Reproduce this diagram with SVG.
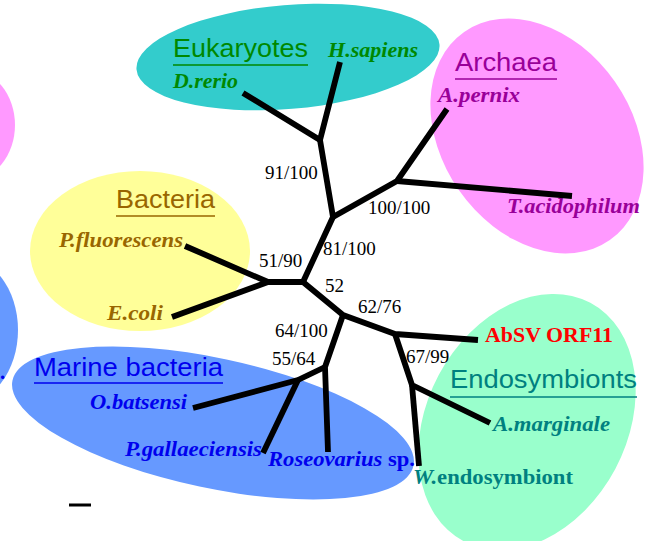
<svg xmlns="http://www.w3.org/2000/svg" width="649" height="541" viewBox="0 0 649 541">
<style>
.grp{font-family:"Liberation Sans",Arial,sans-serif;font-size:25px}
.sp{font-family:"Liberation Serif","Times New Roman",serif;font-size:21px;font-weight:bold;font-style:italic}
.bs{font-family:"Liberation Serif","Times New Roman",serif;font-size:19px;fill:#000}
.ul{stroke-width:1.6}
.edge{stroke:#000;stroke-width:5.8;fill:none;stroke-linecap:butt;stroke-linejoin:round}
</style>
<rect width="649" height="541" fill="#fff"/>
<g id="bg-left">
<ellipse cx="-30" cy="125" rx="45" ry="55" fill="#FF99FF"/>
<ellipse cx="-40" cy="330" rx="58" ry="75" fill="#6699FF"/>
<text x="0" y="379" fill="#0000EE" style="font-family:'Liberation Serif',serif;font-size:21px;font-weight:bold">.</text>
</g>
<g id="eukaryotes">
<ellipse cx="288" cy="57" rx="152" ry="52" transform="rotate(-4.7 288 57)" fill="#33CCCC"/>
<text class="grp" x="173" y="57" fill="#008800" textLength="135" lengthAdjust="spacingAndGlyphs">Eukaryotes</text>
<line class="ul" x1="173" y1="65" x2="308" y2="65" stroke="#008800"/>
<text class="sp" x="328" y="57" fill="#008800" textLength="90" lengthAdjust="spacingAndGlyphs">H.sapiens</text>
<text class="sp" x="173" y="88" fill="#008800" textLength="65" lengthAdjust="spacingAndGlyphs">D.rerio</text>
</g>
<g id="archaea">
<ellipse cx="537" cy="136" rx="127" ry="95" transform="rotate(55 537 136)" fill="#FF99FF"/>
<text class="grp" x="455" y="71" fill="#990099" textLength="102" lengthAdjust="spacingAndGlyphs">Archaea</text>
<line class="ul" x1="455" y1="79" x2="557" y2="79" stroke="#990099"/>
<text class="sp" x="438" y="102" fill="#990099" textLength="82" lengthAdjust="spacingAndGlyphs">A.pernix</text>
<text class="sp" x="507" y="213" fill="#990099" textLength="133" lengthAdjust="spacingAndGlyphs">T.acidophilum</text>
</g>
<g id="bacteria">
<ellipse cx="140" cy="251" rx="110" ry="80" fill="#FFFF99"/>
<text class="grp" x="116" y="208" fill="#996600" textLength="99" lengthAdjust="spacingAndGlyphs">Bacteria</text>
<line class="ul" x1="116" y1="216" x2="215" y2="216" stroke="#996600"/>
<text class="sp" x="59" y="247" fill="#996600" textLength="124" lengthAdjust="spacingAndGlyphs">P.fluorescens</text>
<text class="sp" x="107" y="320" fill="#996600" textLength="56" lengthAdjust="spacingAndGlyphs">E.coli</text>
</g>
<g id="marine">
<ellipse cx="213" cy="423" rx="205" ry="65" transform="rotate(12 213 423)" fill="#6699FF"/>
<text class="grp" x="34" y="376" fill="#0000EE" textLength="189" lengthAdjust="spacingAndGlyphs">Marine bacteria</text>
<line class="ul" x1="34" y1="383" x2="223" y2="383" stroke="#0000EE"/>
<text class="sp" x="90" y="409" fill="#0000EE" textLength="97" lengthAdjust="spacingAndGlyphs">O.batsensi</text>
<text class="sp" x="125" y="456" fill="#0000EE" textLength="137" lengthAdjust="spacingAndGlyphs">P.gallaeciensis</text>
<text class="sp" x="268" y="466" fill="#0000EE" textLength="147" lengthAdjust="spacingAndGlyphs">Roseovarius<tspan style="font-style:normal"> sp.</tspan></text>
</g>
<g id="endosymbionts">
<ellipse cx="527" cy="422" rx="135" ry="100" transform="rotate(-62 527 422)" fill="#99FFCC"/>
<text class="grp" x="450" y="388" fill="#008080" textLength="187" lengthAdjust="spacingAndGlyphs">Endosymbionts</text>
<line class="ul" x1="450" y1="397" x2="637" y2="397" stroke="#008080"/>
<text class="sp" x="493" y="431" fill="#008080" textLength="117" lengthAdjust="spacingAndGlyphs">A.marginale</text>
<text class="sp" x="413" y="484" fill="#008080" textLength="160" lengthAdjust="spacingAndGlyphs">W.<tspan style="font-style:normal">endosymbiont</tspan></text>
</g>
<g id="absv">
<text x="485" y="342" fill="#FF0000" style="font-family:'Liberation Serif','Times New Roman',serif;font-size:21px;font-weight:bold" textLength="128" lengthAdjust="spacingAndGlyphs">AbSV ORF11</text>
</g>
<g id="connectors">
<path class="edge" d="M340 62 L320 140 L243 93"/>
<path class="edge" d="M320 140 L333 217 L397 181 L447 109"/>
<path class="edge" d="M397 181 L572 196"/>
<path class="edge" d="M333 217 L303 282 L268 282 L185 246"/>
<path class="edge" d="M268 282 L172 317"/>
<path class="edge" d="M303 282 L343 315 L395 334 L478 340"/>
<path class="edge" d="M395 334 L412 385 L490 423"/>
<path class="edge" d="M412 385 L419 466"/>
<path class="edge" d="M343 315 L325 367 L328 452"/>
<path class="edge" d="M325 367 L298 380 L193 408"/>
<path class="edge" d="M298 380 L263 453"/>
</g>
<g id="support">
<text class="bs" x="265" y="179">91/100</text>
<text class="bs" x="368" y="214">100/100</text>
<text class="bs" x="323" y="255">81/100</text>
<text class="bs" x="259" y="267">51/90</text>
<text class="bs" x="325" y="292">52</text>
<text class="bs" x="358" y="313">62/76</text>
<text class="bs" x="275" y="337">64/100</text>
<text class="bs" x="272" y="365">55/64</text>
<text class="bs" x="406" y="363">67/99</text>
</g>
<g id="scalebar">
<line x1="69" y1="505" x2="91" y2="505" stroke="#000" stroke-width="3"/>
</g>
</svg>
